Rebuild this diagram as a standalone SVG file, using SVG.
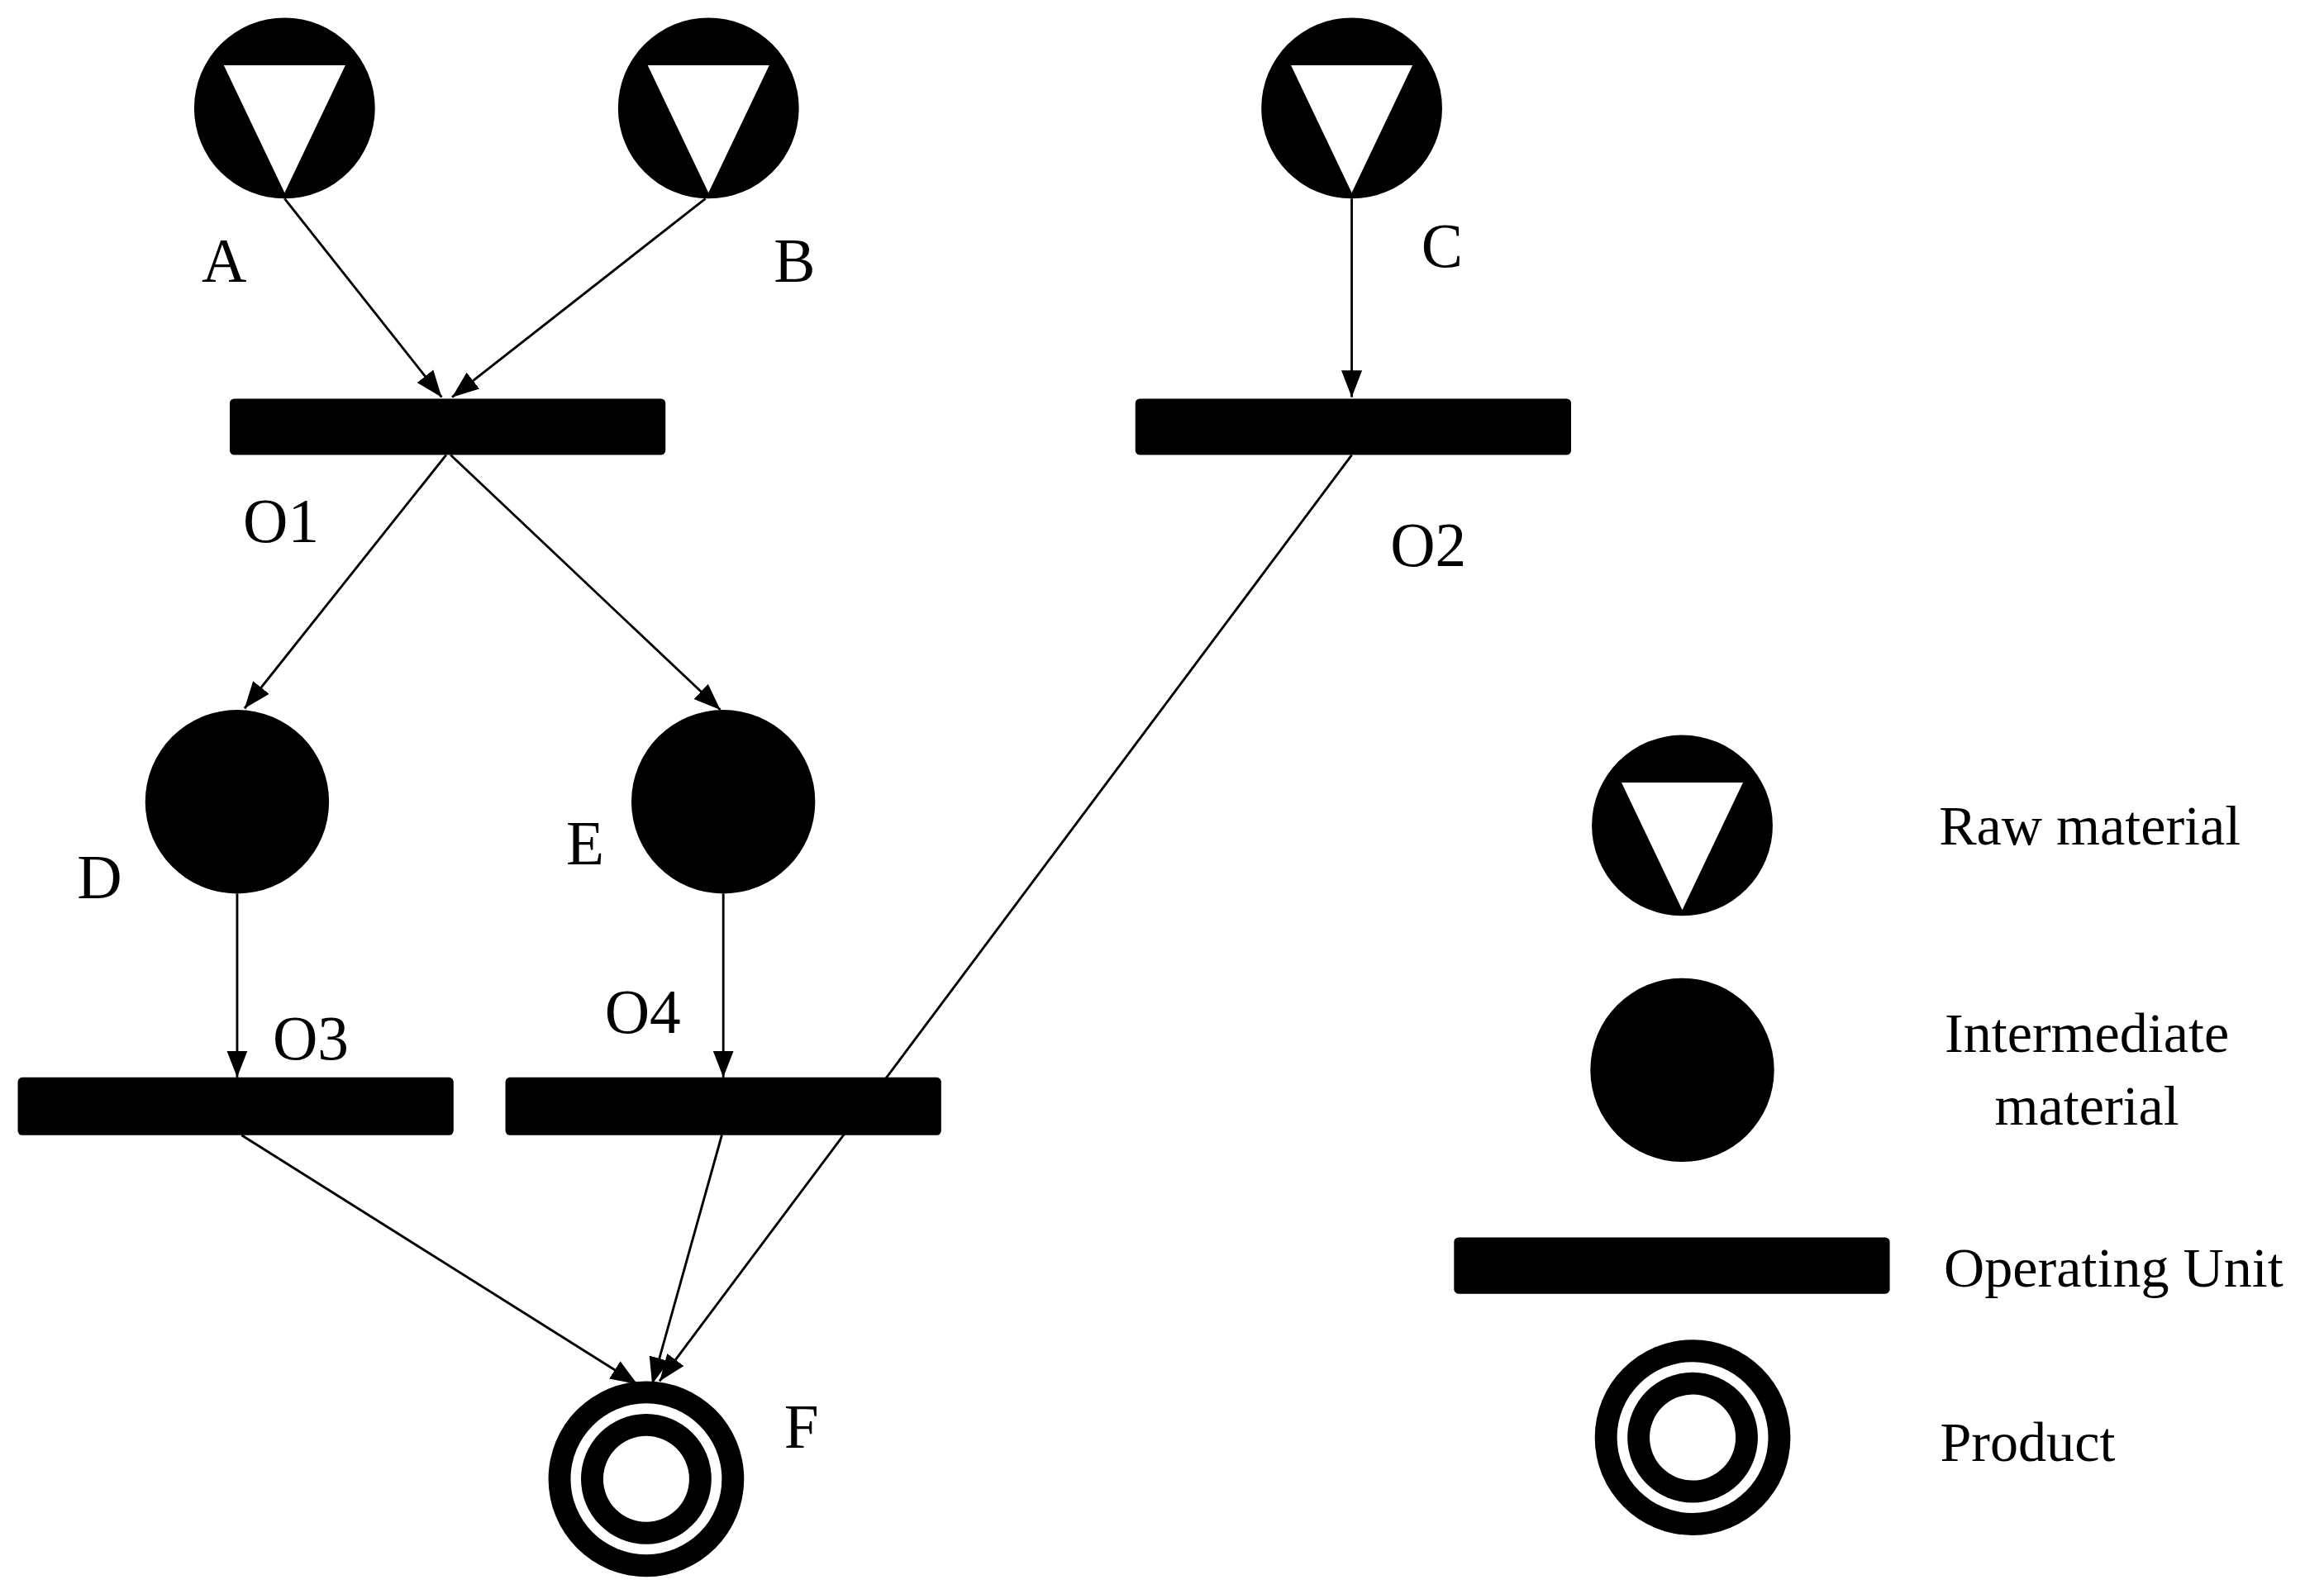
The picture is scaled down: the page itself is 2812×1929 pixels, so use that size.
<svg xmlns="http://www.w3.org/2000/svg" width="2812" height="1929" viewBox="0 0 2812 1929">
<style>
.t{font-family:"Liberation Serif",serif;font-size:42px;fill:#000}
.l{font-family:"Liberation Serif",serif;font-size:38px;fill:#000;text-anchor:middle}
.e{stroke:#000;stroke-width:1.6;fill:none;marker-end:url(#ah)}
.op{fill:#000}
</style>
<defs>
<marker id="ah" markerUnits="userSpaceOnUse" markerWidth="20" markerHeight="20" viewBox="0 0 20 20" refX="18" refY="10" orient="auto"><path d="M0,3 L18,10 L0,17 Z" fill="#000"/></marker>
<g id="raw"><circle r="61" fill="#000"/><path d="M-41,-29 L41,-29 L0,57 Z" fill="#fff"/></g>
<g id="prod"><circle r="66" fill="#000"/><circle r="51" fill="#fff"/><circle r="44" fill="#000"/><circle r="29" fill="#fff"/></g>
</defs>
<rect width="2812" height="1929" fill="#fff"/>
<g transform="scale(1.7934)">
<g id="connectors">
<line class="e" x1="192" y1="134" x2="298" y2="268"/>
<line class="e" x1="476" y1="134" x2="305" y2="268"/>
<line class="e" x1="912" y1="134" x2="912" y2="268"/>
<line class="e" x1="301" y1="307" x2="165" y2="478"/>
<line class="e" x1="304" y1="307" x2="486" y2="479"/>
<line class="e" x1="160" y1="603" x2="160" y2="727"/>
<line class="e" x1="488" y1="603" x2="488" y2="727"/>
<line class="e" x1="163" y1="766" x2="430" y2="934"/>
<line class="e" x1="487" y1="766" x2="440" y2="934"/>
<line class="e" x1="912" y1="307" x2="445" y2="932"/>
</g>
<g id="A"><use href="#raw" x="192" y="73"/><text class="t" x="136" y="190">A</text></g>
<g id="B"><use href="#raw" x="478" y="73"/><text class="t" x="522" y="190">B</text></g>
<g id="C"><use href="#raw" x="912" y="73"/><text class="t" x="959" y="180">C</text></g>
<g id="O1"><rect class="op" x="155" y="269" width="294" height="38" rx="3"/><text class="t" x="164" y="366">O1</text></g>
<g id="O2"><rect class="op" x="766" y="269" width="294" height="38" rx="3"/><text class="t" x="938" y="382">O2</text></g>
<g id="D"><circle cx="160" cy="541" r="62" fill="#000"/><text class="t" x="52" y="606">D</text></g>
<g id="E"><circle cx="488" cy="541" r="62" fill="#000"/><text class="t" x="382" y="583">E</text></g>
<g id="O3"><rect class="op" x="12" y="727" width="294" height="39" rx="3"/><text class="t" x="184" y="715">O3</text></g>
<g id="O4"><rect class="op" x="341" y="727" width="294" height="39" rx="3"/><text class="t" x="408" y="697">O4</text></g>
<g id="F"><use href="#prod" x="436" y="998"/><text class="t" x="529" y="977">F</text></g>
<g id="legend">
<use href="#raw" x="1135" y="557"/><text class="l" x="1410" y="570">Raw material</text>
<circle cx="1135" cy="722" r="62" fill="#000"/><text class="l" x="1408" y="710">Intermediate</text><text class="l" x="1408" y="759">material</text>
<rect class="op" x="981" y="835" width="294" height="38" rx="3"/><text class="l" x="1426" y="868">Operating Unit</text>
<use href="#prod" x="1142" y="970"/><text class="l" x="1368" y="986">Product</text>
</g>
</g>
</svg>
